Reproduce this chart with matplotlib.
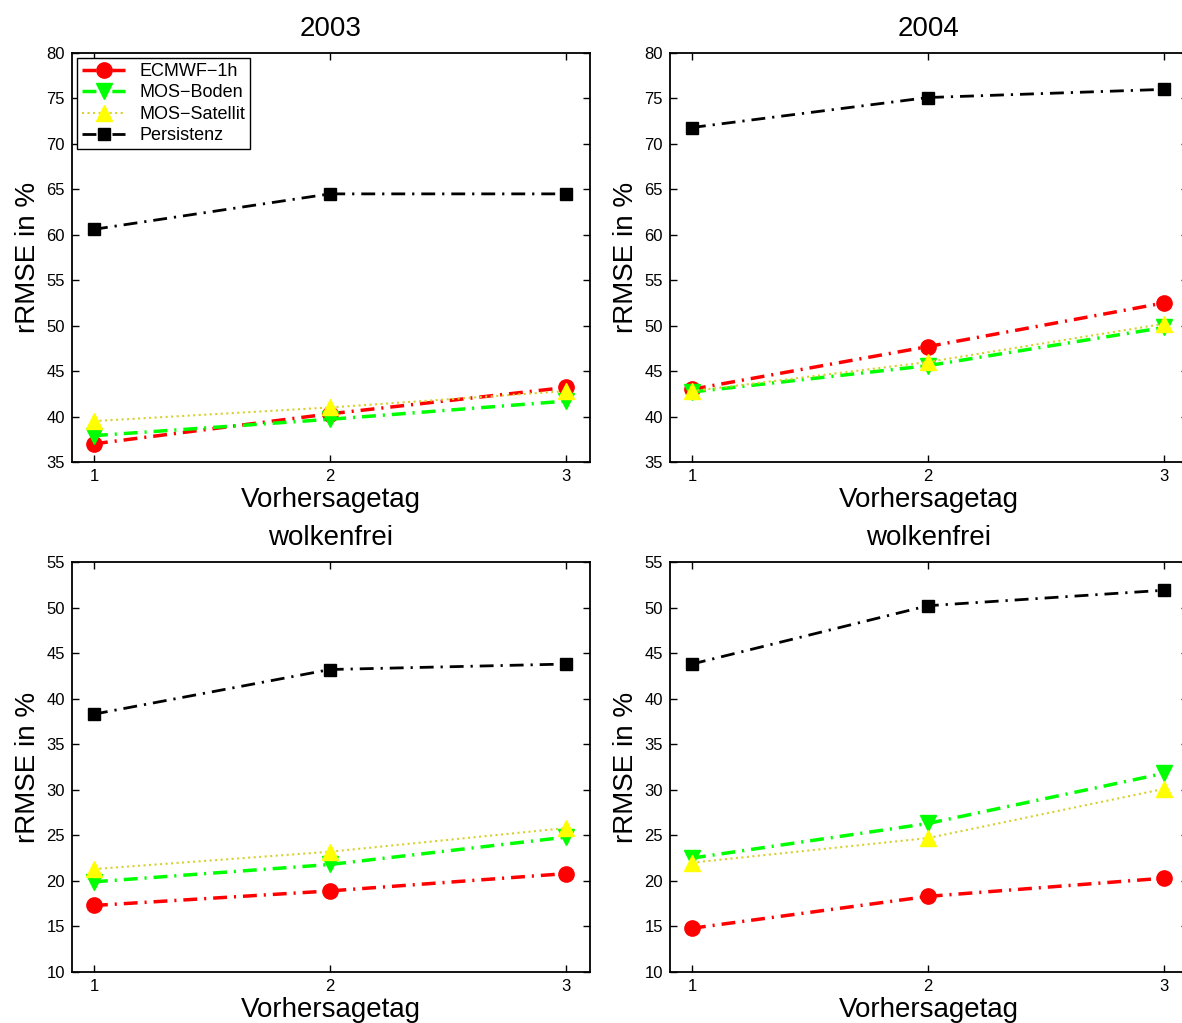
import numpy as np
import matplotlib.pyplot as plt

plt.rcParams['font.family'] = ['Liberation Sans', 'DejaVu Sans']

days = [1, 2, 3]
series = ['ECMWF\u22121h', 'MOS\u2212Boden', 'MOS\u2212Satellit', 'Persistenz']

# rRMSE in %, one list per panel and series
all_2003 = {
    'ECMWF\u22121h': [37.0, 40.3, 43.2],
    'MOS\u2212Boden': [37.9, 39.7, 41.7],
    'MOS\u2212Satellit': [39.5, 41.0, 42.8],
    'Persistenz': [60.6, 64.5, 64.5],
}
all_2004 = {
    'ECMWF\u22121h': [43.0, 47.7, 52.5],
    'MOS\u2212Boden': [42.7, 45.6, 49.8],
    'MOS\u2212Satellit': [42.8, 46.0, 50.2],
    'Persistenz': [71.8, 75.1, 76.0],
}
clear_2003 = {
    'ECMWF\u22121h': [17.3, 18.9, 20.8],
    'MOS\u2212Boden': [19.9, 21.8, 24.8],
    'MOS\u2212Satellit': [21.3, 23.2, 25.8],
    'Persistenz': [38.3, 43.2, 43.8],
}
clear_2004 = {
    'ECMWF\u22121h': [14.8, 18.3, 20.3],
    'MOS\u2212Boden': [22.5, 26.3, 31.8],
    'MOS\u2212Satellit': [22.0, 24.7, 30.1],
    'Persistenz': [43.8, 50.2, 51.9],
}

dashdot = (0, (4, 2, 0.6, 2))
styles = {
    'ECMWF\u22121h': dict(color='#ff0000', ls=dashdot, marker='o', ms=11, lw=2.5),
    'MOS\u2212Boden': dict(color='#00ff00', ls=dashdot, marker='v', ms=12, lw=2.5),
    'MOS\u2212Satellit': dict(color='#d8d030', ls=':', marker='^', ms=12, lw=1.5,
                              mfc='#ffff00', mec='#ffff00'),
    'Persistenz': dict(color='k', ls=(0, (5, 2.5, 0.8, 2.5)), marker='s', ms=9, lw=2),
}

W, H = 1182, 1023
fig = plt.figure(figsize=(W / 100, H / 100), dpi=100)

panels = [
    (all_2003, '2003', (35, 80), 72, 53, 462),
    (all_2004, '2004', (35, 80), 670, 53, 462),
    (clear_2003, 'wolkenfrei', (10, 55), 72, 562, 972),
    (clear_2004, 'wolkenfrei', (10, 55), 670, 562, 972),
]

for k, (data, title, ylim, left, top, bottom) in enumerate(panels):
    ax = fig.add_axes([left / W, 1 - bottom / H, 518 / W, (bottom - top) / H])
    for name in series:
        st = styles[name]
        ax.plot(days, data[name], label=name, color=st['color'], linestyle=st['ls'],
                linewidth=st['lw'], marker=st['marker'], markersize=st['ms'],
                markerfacecolor=st.get('mfc', st['color']),
                markeredgecolor=st.get('mec', st['color']))
    ax.set_xlim(0.907, 3.102)
    ax.set_ylim(*ylim)
    ax.set_xticks(days)
    ax.set_yticks(np.arange(ylim[0], ylim[1] + 1, 5))
    ax.tick_params(direction='in', top=True, right=True, length=5, width=1,
                   labelsize=12, pad=5)
    for sp in ax.spines.values():
        sp.set_linewidth(1.3)
    ax.set_title(title, fontsize=20, pad=12)
    ax.set_xlabel('Vorhersagetag', fontsize=20, labelpad=2)
    ax.set_ylabel('rRMSE in %', fontsize=20, labelpad=4)
    if k == 0:
        leg = ax.legend(loc='upper left', fontsize=13, fancybox=False,
                        edgecolor='k', framealpha=1, borderaxespad=0.3,
                        handlelength=2.4, labelspacing=0.25, borderpad=0.25)
        leg.get_frame().set_linewidth(1.0)

fig.savefig('out.png', dpi=100)
